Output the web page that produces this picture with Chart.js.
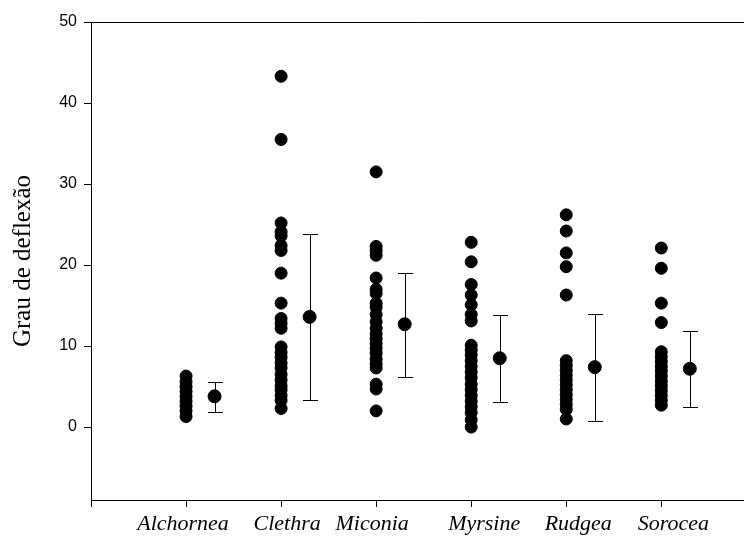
<!DOCTYPE html>
<html>
<head>
<meta charset="utf-8">
<script src="https://cdn.jsdelivr.net/npm/chart.js@4"></script>
<style>
  body { margin: 0; background: #fff; }
  canvas { display: block; }
</style>
</head>
<body>
<canvas id="chart" width="744" height="536"></canvas>
<script>
// Genera on the x axis
const genera = ['Alchornea', 'Clethra', 'Miconia', 'Myrsine', 'Rudgea', 'Sorocea'];

// Raw deflection values per genus
const alchornea = [6.3, 5.6, 5.0, 4.4, 3.8, 3.2, 2.6, 2.0, 1.3];
const clethra = [43.3, 35.5, 25.2, 24.1, 23.6, 22.4, 21.8, 19.0, 15.3, 13.4, 12.8, 12.2, 9.9, 9.2, 8.6, 7.9, 7.3, 6.5, 5.8, 5.1, 4.6, 3.9, 3.3, 2.3];
const miconia = [31.5, 22.3, 21.8, 21.2, 18.4, 17.0, 16.5, 15.3, 14.8, 13.9, 13.0, 12.2, 11.5, 10.9, 10.3, 9.7, 9.1, 8.4, 7.8, 7.3, 5.3, 4.7, 2.0];
const myrsine = [22.8, 20.4, 17.6, 16.3, 15.1, 13.9, 13.1, 10.1, 9.5, 8.9, 8.2, 7.5, 6.8, 6.1, 5.3, 4.6, 3.9, 3.2, 2.5, 1.8, 0.9, 0.0];
const rudgea = [26.2, 24.2, 21.5, 19.8, 16.3, 8.2, 7.6, 7.0, 6.4, 5.8, 5.2, 4.6, 4.0, 3.4, 2.8, 2.2, 1.0];
const sorocea = [22.1, 19.6, 15.3, 12.9, 9.3, 8.7, 8.1, 7.5, 6.9, 6.3, 5.7, 5.1, 4.5, 3.9, 3.3, 2.7];

// Mean and error bar limits
const means = [3.8, 13.6, 12.7, 8.5, 7.4, 7.2];
const lowers = [1.9, 3.4, 6.2, 3.1, 0.8, 2.5];
const uppers = [5.6, 23.8, 19.0, 13.8, 14.0, 11.8];

const yTicks = [0, 10, 20, 30, 40, 50];
const meanOffset = 0.3;
// small horizontal nudges of the genus names, in px (the original isn't centred exactly)
const labelNudge = [-3, 6, -4, 13, 12, 12];

const rawSets = [alchornea, clethra, miconia, myrsine, rudgea, sorocea];
const rawPoints = [];
rawSets.forEach((vals, i) => {
    vals.forEach(v => rawPoints.push({ x: i + 1, y: v }));
});
const meanPoints = means.map((m, i) => ({ x: i + 1 + meanOffset, y: m }));

// Draws the vertical error bars with caps, the top frame line and the genus names
const extras = {
    id: 'extras',
    afterDatasetsDraw(chart) {
        const ctx = chart.ctx;
        const xs = chart.scales.x;
        const ys = chart.scales.y;
        const area = chart.chartArea;
        ctx.save();
        ctx.strokeStyle = '#000';
        ctx.lineWidth = 1;
        means.forEach((m, i) => {
            const px = Math.round(xs.getPixelForValue(i + 1 + meanOffset)) + 0.5;
            const top = Math.round(ys.getPixelForValue(uppers[i])) + 0.5;
            const bot = Math.round(ys.getPixelForValue(lowers[i])) + 0.5;
            ctx.beginPath();
            ctx.moveTo(px, top);
            ctx.lineTo(px, bot);
            ctx.moveTo(px - 7.5, top);
            ctx.lineTo(px + 7.5, top);
            ctx.moveTo(px - 7.5, bot);
            ctx.lineTo(px + 7.5, bot);
            ctx.stroke();
        });
        // top frame
        const ty = Math.round(area.top) + 0.5;
        ctx.beginPath();
        ctx.moveTo(area.left, ty);
        ctx.lineTo(chart.width, ty);
        ctx.stroke();

        // genus names under the ticks
        ctx.fillStyle = '#000';
        ctx.font = 'italic 22px "Liberation Serif", "Times New Roman", serif';
        ctx.textAlign = 'center';
        ctx.textBaseline = 'alphabetic';
        genera.forEach((g, i) => {
            ctx.fillText(g, xs.getPixelForValue(i + 1) + labelNudge[i], area.bottom + 30);
        });
        ctx.restore();
    }
};

new Chart(document.getElementById('chart'), {
    type: 'scatter',
    data: {
        datasets: [{
            data: rawPoints,
            backgroundColor: '#000',
            borderColor: '#000',
            pointRadius: 6,
            pointHoverRadius: 6
        }, {
            data: meanPoints,
            backgroundColor: '#000',
            borderColor: '#000',
            pointRadius: 6.5,
            pointHoverRadius: 6.5
        }]
    },
    options: {
        responsive: false,
        animation: false,
        events: [],
        layout: { autoPadding: false, padding: { top: 22, right: 0, left: 0, bottom: 0 } },
        plugins: {
            legend: { display: false },
            tooltip: { enabled: false }
        },
        scales: {
            x: {
                type: 'linear',
                min: 0,
                max: 6.87,
                afterBuildTicks: scale => {
                    scale.ticks = [0, 1, 2, 3, 4, 5, 6].map(v => ({ value: v }));
                },
                afterFit: scale => {
                    scale.height = 36;
                    scale.paddingRight = 0;
                    scale.paddingLeft = 0;
                },
                grid: {
                    drawOnChartArea: false,
                    drawTicks: true,
                    tickLength: 7,
                    color: '#000'
                },
                border: { display: true, color: '#000', width: 1 },
                ticks: {
                    autoSkip: false,
                    maxRotation: 0,
                    padding: 2,
                    color: '#000',
                    callback: () => ''
                }
            },
            y: {
                min: -9,
                max: 50,
                afterBuildTicks: scale => {
                    scale.ticks = yTicks.map(v => ({ value: v }));
                },
                afterFit: scale => { scale.width = 91; },
                grid: {
                    drawOnChartArea: false,
                    drawTicks: true,
                    tickLength: 7,
                    color: '#000'
                },
                border: { display: true, color: '#000', width: 1 },
                ticks: {
                    padding: 7,
                    color: '#000',
                    font: { family: '"Liberation Sans", Arial, sans-serif', size: 16 }
                },
                title: {
                    display: true,
                    text: 'Grau de deflexão',
                    color: '#000',
                    padding: { top: 8, bottom: 0 },
                    font: { family: '"Liberation Serif", "Times New Roman", serif', size: 25 }
                }
            }
        }
    },
    plugins: [extras]
});
</script>
</body>
</html>
